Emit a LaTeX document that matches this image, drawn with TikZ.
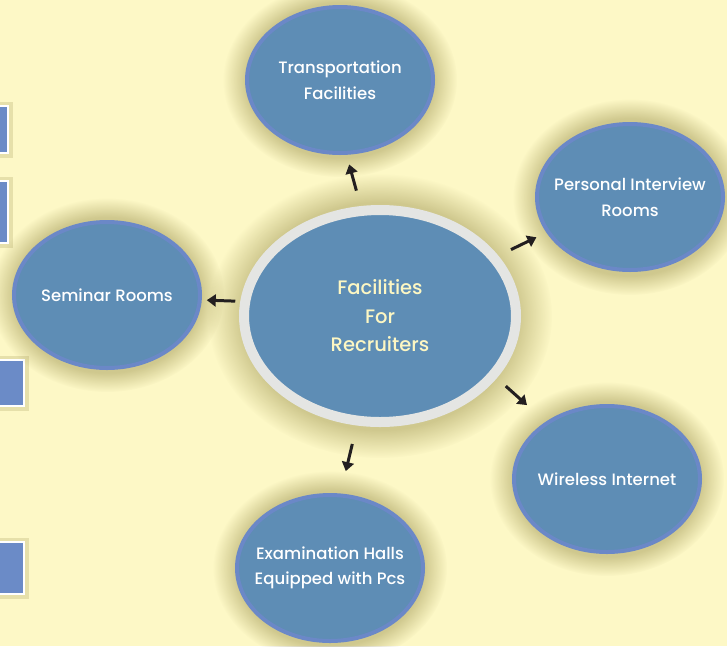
\documentclass[tikz,border=0pt]{standalone}
\usepackage{fontspec}
\setmainfont{Poppins Medium}
\usetikzlibrary{shapes.geometric, arrows.meta, fadings}

\definecolor{paper}{RGB}{253,248,198}
\definecolor{steel}{RGB}{94,141,181}
\definecolor{rim}{RGB}{107,136,199}
\definecolor{ringgray}{RGB}{228,229,227}
\definecolor{cream}{RGB}{253,247,195}
\definecolor{tabblue}{RGB}{107,139,199}
\definecolor{haze}{RGB}{140,130,60}
\definecolor{ink}{RGB}{35,31,32}

\begin{document}
\begin{tikzpicture}[x=1pt, y=-1pt,
    bubble/.style={ellipse, draw=rim, line width=4pt, fill=steel, minimum width=186pt, minimum height=146pt, inner sep=0pt},
    hub/.style={ellipse, draw=ringgray, line width=10pt, fill=steel, minimum width=272pt, minimum height=212pt, inner sep=0pt,
        text=cream, align=center, font=\fontsize{19.5}{28.5}\selectfont},
    words/.style={text=white, align=center, font=\fontsize{16.5}{25.5}\selectfont},
    glow/.style={fill=haze, fill opacity=0.4, path fading=circle with fuzzy edge 20 percent},
    tab/.style={fill=tabblue, draw=white, line width=1.5pt, preaction={draw=haze, draw opacity=0.2, line width=9pt}},
    arr/.style={-{Triangle[length=9pt, width=12pt]}, line width=3pt, draw=ink}]

    \useasboundingbox (0,0) rectangle (727,646);
    \clip (0,0) rectangle (727,646);
    \fill[paper] (0,0) rectangle (727,646);

    \draw[tab] (-5,106) rectangle (8,153);
    \draw[tab] (-5,181) rectangle (8,243);
    \draw[tab] (-5,360) rectangle (24,406);
    \draw[tab] (-5,542) rectangle (24,594);

    \foreach \cx/\cy/\rx/\ry in {340/80/117/97, 630/197/117/98, 107/295/117/97, 607/479/117/97, 330/568/117/97, 380/316/172/142}
        \fill[glow] (\cx,\cy) ellipse [x radius=\rx, y radius=\ry];

    \node[hub] (fac) at (380,316) {Facilities\\For\\Recruiters};
    \node[bubble, label={[words]center:{Transportation\\Facilities}}] (trans) at (340,80) {};
    \node[bubble, label={[words]center:{Personal Interview\\Rooms}}] (pers) at (630,197) {};
    \node[bubble, label={[words]center:{Seminar Rooms}}] (sem) at (107,295) {};
    \node[bubble, label={[words]center:{Wireless Internet}}] (wire) at (607,479) {};
    \node[bubble, label={[words]center:{Examination Halls\\Equipped with Pcs}}] (exam) at (330,568) {};

    \draw[arr, shorten <=16pt, shorten >=10pt] (fac.100) -- (trans.-85);
    \draw[arr, shorten <=14pt, shorten >=11pt] (fac.27) -- (pers.203);
    \draw[arr, shorten <=5pt, shorten >=5pt] (fac.174) -- (sem.-3);
    \draw[arr, shorten <=12pt, shorten >=25pt] (fac.-28) -- (wire.137);
    \draw[arr, shorten <=19pt, shorten >=23pt] (fac.-102) -- (exam.82);
\end{tikzpicture}
\end{document}
